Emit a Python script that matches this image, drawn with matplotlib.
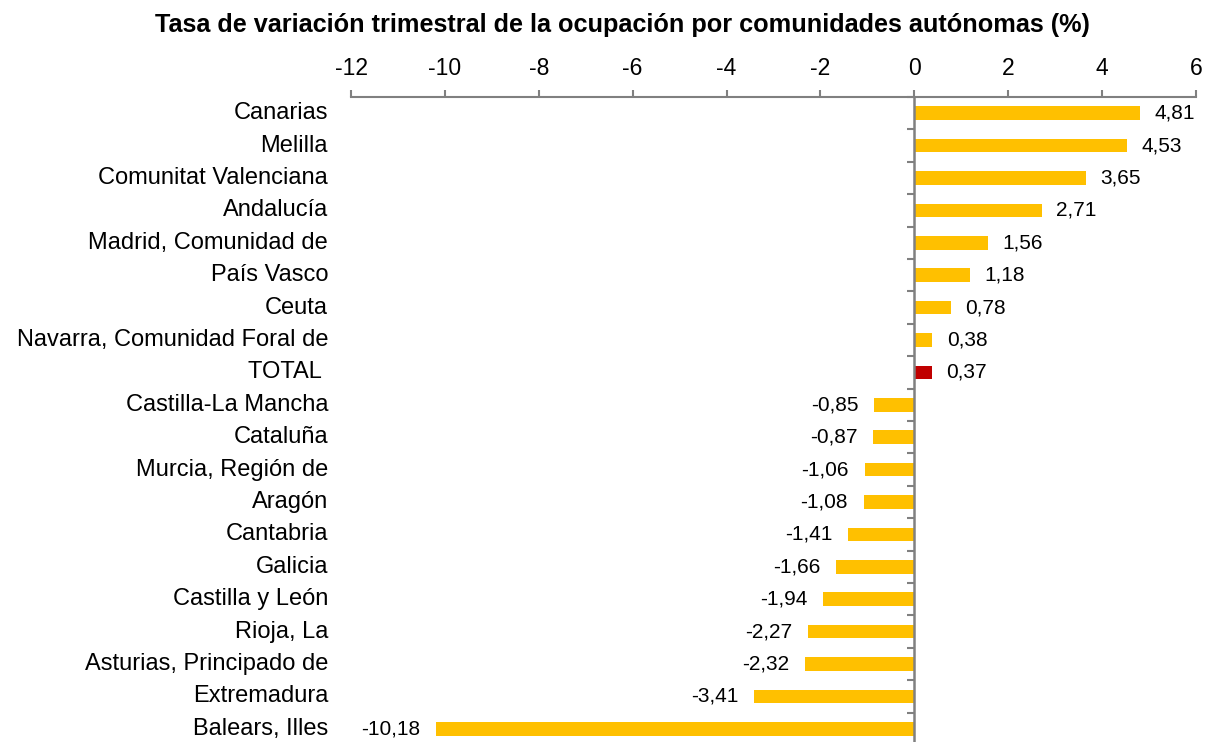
import matplotlib
matplotlib.use("Agg")
import matplotlib.pyplot as plt
import matplotlib.transforms as mtransforms

plt.rcParams['font.family'] = ['Liberation Sans', 'DejaVu Sans']
plt.rcParams['axes.unicode_minus'] = False

categories = ["Canarias", "Melilla", "Comunitat Valenciana", "Andalucía",
              "Madrid, Comunidad de", "País Vasco", "Ceuta",
              "Navarra, Comunidad Foral de", "TOTAL ", "Castilla-La Mancha",
              "Cataluña", "Murcia, Región de", "Aragón", "Cantabria", "Galicia",
              "Castilla y León", "Rioja, La", "Asturias, Principado de",
              "Extremadura", "Balears, Illes"]
values = [4.81, 4.53, 3.65, 2.71, 1.56, 1.18, 0.78, 0.38, 0.37, -0.85,
          -0.87, -1.06, -1.08, -1.41, -1.66, -1.94, -2.27, -2.32, -3.41, -10.18]
xticks = [-12, -10, -8, -6, -4, -2, 0, 2, 4, 6]
title = "Tasa de variación trimestral de la ocupación por comunidades autónomas (%)"

fig = plt.figure(figsize=(12.09, 7.42), dpi=100)
ax = fig.add_axes([351/1209, -0.004, 845/1209, 1 - 97/742 + 0.004])

n = len(categories)
ypos = list(range(n))
colors = ['#C00000' if c.strip() == 'TOTAL' else '#FFC000' for c in categories]
ax.barh(ypos, values, height=0.42, color=colors, zorder=2)
ax.set_ylim(n - 0.5, -0.5)
ax.set_xlim(-12, 6)

gray = '#808080'
for s in ['right', 'bottom']:
    ax.spines[s].set_visible(False)
ax.spines['top'].set_color(gray)
ax.spines['top'].set_linewidth(1.5)
ax.spines['left'].set_position(('data', 0))
ax.spines['left'].set_color(gray)
ax.spines['left'].set_linewidth(1.8)
ax.spines['left'].set_zorder(3)

ax.xaxis.tick_top()
ax.set_xticks(xticks)
ax.set_xticklabels([str(t) for t in xticks])
ax.tick_params(axis='x', direction='out', length=5, width=1.5, color=gray,
               labelsize=16.5, pad=7, labelcolor='black')

ax.set_yticks([i + 0.5 for i in range(n - 1)] + [-0.5])
ax.set_yticklabels([])
ax.tick_params(axis='y', direction='out', length=5, width=1.5, color=gray)

trans = mtransforms.blended_transform_factory(ax.transAxes, ax.transData)
for i, c in enumerate(categories):
    ax.text(-0.0272, i, c, transform=trans, ha='right', va='center',
            fontsize=17, color='black')

for i, v in enumerate(values):
    lab = f"{v:.2f}".replace('.', ',')
    ax.annotate(lab, xy=(v, i), xytext=(10.5 if v >= 0 else -11.5, 0),
                textcoords='offset points',
                ha='left' if v >= 0 else 'right', va='center',
                fontsize=15, color='black')

fig.text(622/1209, 1 - 32/742, title, ha='center', va='baseline',
         fontsize=18.2, fontweight='bold')

fig.savefig('out.png', dpi=100)
